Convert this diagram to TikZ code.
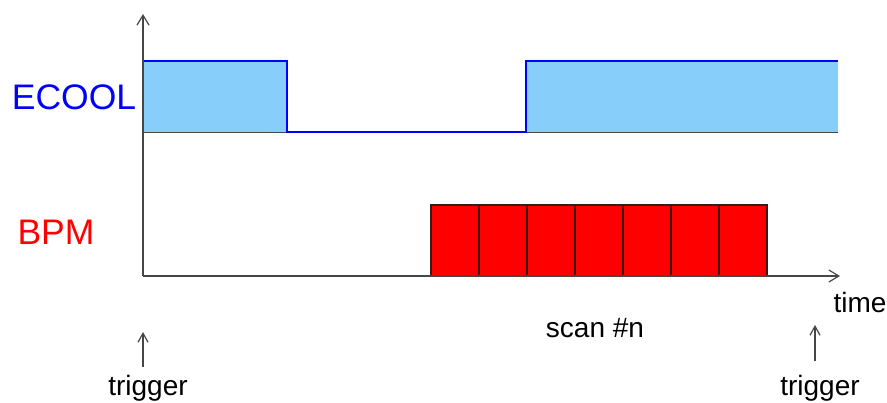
\documentclass[tikz,border=0pt]{standalone}
\usepackage{fontspec}
\setmainfont{Liberation Sans}
\usetikzlibrary{arrows.meta}
\definecolor{coolfill}{RGB}{135,206,250}
\definecolor{axisgray}{RGB}{70,70,70}
\definecolor{slotline}{RGB}{60,25,25}
\begin{document}
\begin{tikzpicture}[x=1pt,y=-1pt,
  axis/.style={draw=axisgray,line width=1.2pt,-{Straight Barb[length=10pt,width=12pt]}},
  trig/.style={draw=axisgray,line width=1.2pt,-{Straight Barb[length=9pt,width=10pt]}},
  big/.style={font=\fontsize{35.5}{35.5}\selectfont,inner sep=0pt},
  small/.style={font=\fontsize{28}{28}\selectfont,inner sep=0pt},
  slot/.style={fill=red,draw=slotline,line width=1.3pt}]
\useasboundingbox (0,0) rectangle (887,402);
% ECOOL on-periods
\fill[coolfill] (143,61) rectangle (287,132);
\fill[coolfill] (526,61) rectangle (838,132);
\draw[axisgray,line width=1pt] (143,132) -- (287,132);
\draw[axisgray,line width=1pt] (526,132) -- (838,132);
\draw[blue,line width=2pt] (143,61) -- (287,61) -- (287,132) -- (526,132) -- (526,61) -- (838,61);
% BPM acquisition slots
\foreach \i in {0,...,6}
  \draw[slot] ({431+48*\i},205) rectangle ({479+48*\i},276);
% axes
\coordinate (o) at (143,276);
\coordinate (ytip) at (143,14);
\coordinate (xtip) at (840,276);
\draw[axis] (o) -- (ytip);
\draw[axis] (o) -- (xtip);
% labels
\node[big,text=blue] (ecool) at (74,97) {ECOOL};
\node[big,text=red] (bpm) at (56,232) {BPM};
\node[small] (time) at (860,302) {time};
\node[small] (scan) at (595,328) {scan \#n};
\node[small] (trigA) at (148,388) {trigger};
\node[small] (trigB) at (820,388) {trigger};
% trigger markers
\coordinate (trigAbase) at (143,367);
\coordinate (trigAtip) at (143,332);
\coordinate (trigBbase) at (815,361);
\coordinate (trigBtip) at (815,325);
\draw[trig] (trigAbase) -- (trigAtip);
\draw[trig] (trigBbase) -- (trigBtip);
\end{tikzpicture}
\end{document}
